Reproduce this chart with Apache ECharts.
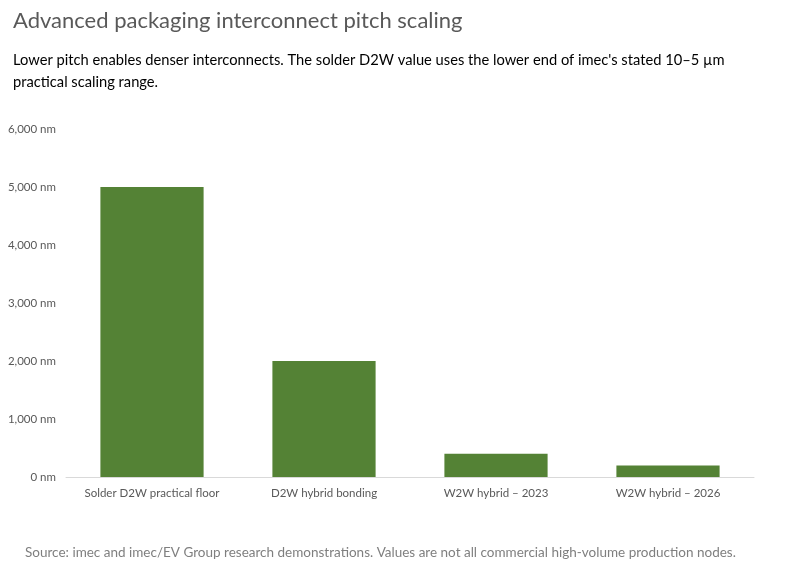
<!DOCTYPE html>
<html><head><meta charset="utf-8">
<script src="https://cdn.jsdelivr.net/npm/echarts@6/dist/echarts.min.js"></script>
<style>html,body{margin:0;padding:0;background:#fff}#c{width:789px;height:573px}</style>
</head><body><div id="c"></div>
<script>
const categories = ["Solder D2W practical floor", "D2W hybrid bonding", "W2W hybrid – 2023", "W2W hybrid – 2026"];
const pitchNm = [5000, 2000, 400, 200];
const titleText = "Advanced packaging interconnect pitch scaling";
const subtitleText = "Lower pitch enables denser interconnects. The solder D2W value uses the lower end of imec's stated 10–5 µm\npractical scaling range.";
const sourceText = "Source: imec and imec/EV Group research demonstrations. Values are not all commercial high-volume production nodes.";
const FONT = "Lato, 'Open Sans', sans-serif";
const chart = echarts.init(document.getElementById('c'), null, {renderer:'canvas'});
chart.setOption({
  animation:false,
  title:[
    {text:titleText, left:8, top:5, textStyle:{fontFamily:FONT, fontSize:22, fontWeight:'normal', color:'#595959'}},
    {text:subtitleText, left:8, top:44, textStyle:{fontFamily:FONT, fontSize:14.7, fontWeight:'normal', color:'#000', lineHeight:22}},
    {text:sourceText, left:20, top:541, textStyle:{fontFamily:FONT, fontSize:13.5, fontWeight:'normal', color:'#7f7f7f'}}
  ],
  grid:{left:66, right:35, top:129, bottom:96},
  xAxis:{type:'category', data:categories,
    axisLine:{lineStyle:{color:'#d9d9d9', width:1}}, axisTick:{show:false},
    axisLabel:{interval:0, fontFamily:FONT, fontSize:11.5, color:'#595959', margin:10}},
  yAxis:{type:'value', min:0, max:6000, interval:1000,
    splitLine:{show:false}, axisLine:{show:false}, axisTick:{show:false},
    axisLabel:{fontFamily:FONT, fontSize:11.5, color:'#595959', margin:10,
      formatter:v=>v.toLocaleString('en-US')+' nm'}},
  series:[{type:'bar', data:pitchNm, barCategoryGap:'40%',
    itemStyle:{color:'#548235'}}]
});
</script></body></html>
